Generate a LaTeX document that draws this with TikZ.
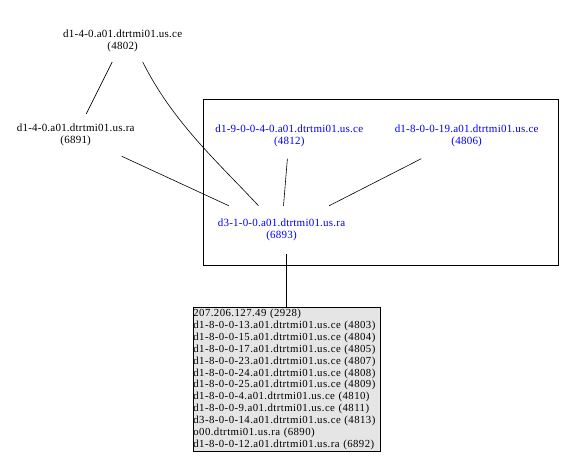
\documentclass[tikz,border=0pt]{standalone}
\usepackage{fontspec}
\setmainfont{Liberation Serif}
\newfontfamily\lblfont[LetterSpace=2]{Liberation Serif}
\newfontfamily\boxfont[LetterSpace=4]{Liberation Serif}
\begin{document}
\begin{tikzpicture}[x=1pt,y=-1pt,
  lbl/.style={align=center,font=\lblfont\fontsize{11}{12}\selectfont,inner sep=0pt,minimum width=130pt},
  inclu/.style={lbl,text=blue},
  edge/.style={draw=black,line width=0.6pt},
  listbox/.style={draw=black,fill=gray!20,line width=0.6pt,align=left,inner sep=0pt,
    font=\boxfont\fontsize{10.8}{11.9}\selectfont,minimum width=186.7pt,minimum height=144.7pt,text width=186.7pt}]
\useasboundingbox (0,0) rectangle (582,465);
\node[draw=black,line width=0.6pt,minimum width=355pt,minimum height=165.7pt,inner sep=0pt] (clu) at (380.8,182.2) {};
\node[lbl,minimum height=41.4pt] (A) at (122.7,41) {d1-4-0.a01.dtrtmi01.us.ce\\(4802)};
\node[lbl,minimum height=42pt] (B) at (75.7,135) {d1-4-0.a01.dtrtmi01.us.ra\\(6891)};
\node[inclu,minimum height=46pt,minimum width=150pt] (C) at (289.3,135.5) {d1-9-0-0-4-0.a01.dtrtmi01.us.ce\\(4812)};
\node[inclu,minimum height=46pt,minimum width=150pt] (D) at (466.7,135.5) {d1-8-0-0-19.a01.dtrtmi01.us.ce\\(4806)};
\node[inclu,minimum height=48.3pt,minimum width=150pt] (E) at (281.5,230.1) {d3-1-0-0.a01.dtrtmi01.us.ra\\(6893)};
\node[listbox] (F) at (286.7,379.4) {207.206.127.49 (2928)\\
d1-8-0-0-13.a01.dtrtmi01.us.ce (4803)\\
d1-8-0-0-15.a01.dtrtmi01.us.ce (4804)\\
d1-8-0-0-17.a01.dtrtmi01.us.ce (4805)\\
d1-8-0-0-23.a01.dtrtmi01.us.ce (4807)\\
d1-8-0-0-24.a01.dtrtmi01.us.ce (4808)\\
d1-8-0-0-25.a01.dtrtmi01.us.ce (4809)\\
d1-8-0-0-4.a01.dtrtmi01.us.ce (4810)\\
d1-8-0-0-9.a01.dtrtmi01.us.ce (4811)\\
d3-8-0-0-14.a01.dtrtmi01.us.ce (4813)\\
o00.dtrtmi01.us.ra (6890)\\
d1-8-0-0-12.a01.dtrtmi01.us.ra (6892)};
\draw[edge] (A) -- (B);
\draw[edge] ([xshift=20pt]A.south) .. controls ([xshift=50pt,yshift=-60pt]A.south) and ([xshift=-65pt,yshift=45pt]E.north) .. ([xshift=-23pt]E.north);
\draw[edge] (B) -- (E);
\draw[edge] (C) -- (E);
\draw[edge] (D) -- (E);
\draw[edge] (F.north |- E.south) -- (F.north);
\end{tikzpicture}
\end{document}
